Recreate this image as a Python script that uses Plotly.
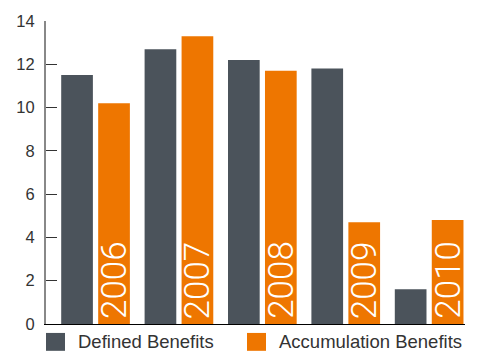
import plotly.graph_objects as go

# Benefit payments by year (values read on a 0-14 scale)
years = ["2006", "2007", "2008", "2009", "2010"]
defined_benefits = [11.5, 12.7, 12.2, 11.8, 1.6]
accumulation_benefits = [10.2, 13.3, 11.7, 4.7, 4.8]
series_names = ["Defined Benefits", "Accumulation Benefits"]
y_ticks = [0, 2, 4, 6, 8, 10, 12, 14]

DARK = "#4b535b"
ORANGE = "#ee7600"
BARGAP = 0.113
BARGROUPGAP = 0.143

fig = go.Figure()
fig.add_trace(go.Bar(x=years, y=defined_benefits, name=series_names[0],
                     marker=dict(color=DARK, line=dict(width=0)), showlegend=False))
fig.add_trace(go.Bar(x=years, y=accumulation_benefits, name=series_names[1],
                     marker=dict(color=ORANGE, line=dict(width=0)), showlegend=False))

# year labels written upward inside the orange bars
slot = (1 - BARGAP) / 2
for i, yr in enumerate(years):
    fig.add_annotation(x=i + slot / 2, y=0, xref="x", yref="y", text=yr,
                       showarrow=False, textangle=-90, xanchor="center",
                       yanchor="bottom", yshift=3,
                       font=dict(family="Roboto", size=35, color="white", weight=300))

# legend swatches and captions
W, H = 481, 351
L, R, T, B = 46, 16, 19, 27
pw, ph = W - L - R, H - T - B


def px(xp):
    return (xp - L) / pw


def py(yp):
    return (H - B - yp) / ph


legend_items = [(46, series_names[0], DARK), (247, series_names[1], ORANGE)]
for x0, label, col in legend_items:
    fig.add_shape(type="rect", xref="paper", yref="paper",
                  x0=px(x0), x1=px(x0 + 19), y0=py(351), y1=py(333),
                  fillcolor=col, line=dict(width=0))
    fig.add_annotation(xref="paper", yref="paper", x=px(x0 + 30), y=py(342),
                       text=label, showarrow=False, xanchor="left", yanchor="middle",
                       font=dict(family="Liberation Sans", size=18.5, color="#333333"))

fig.update_layout(
    width=W, height=H,
    margin=dict(l=L, r=R, t=T, b=B, pad=0),
    paper_bgcolor="white", plot_bgcolor="white",
    barmode="group", bargap=BARGAP, bargroupgap=BARGROUPGAP,
    showlegend=False,
    xaxis=dict(type="category", range=[-0.594, 4.43], showticklabels=False,
               ticks="", showgrid=False, zeroline=False,
               showline=True, linecolor="black", linewidth=1.2),
    yaxis=dict(range=[0, 14], tickvals=y_ticks, ticks="inside", ticklen=11,
               tickcolor="#333333", tickwidth=1.2, showgrid=False, zeroline=False,
               showline=True, linecolor="#888888", linewidth=2,
               ticklabelstandoff=6,
               tickfont=dict(family="Liberation Sans", size=16.5, color="#333333")),
)

fig.write_html("out.html")
